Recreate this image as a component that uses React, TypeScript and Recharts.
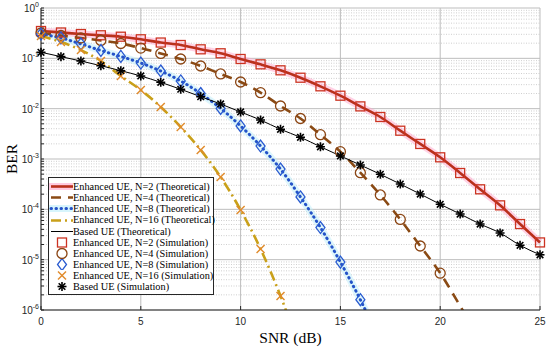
import React from 'react';
import { ComposedChart, Line, Scatter, XAxis, YAxis, CartesianGrid, Legend } from 'recharts';

// SNR in dB, one sample per dB
const snr = [0, 1, 2, 3, 4, 5, 6, 7, 8, 9, 10, 11, 12, 13, 14, 15, 16, 17, 18, 19, 20, 21, 22, 23, 24, 25];

// BER
const berN2 = [0.349, 0.326, 0.304, 0.287, 0.269, 0.239, 0.206, 0.184, 0.151, 0.126, 0.097, 0.076, 0.0578, 0.0412, 0.0278, 0.0181, 0.0111, 0.00683, 0.00365, 0.00199, 0.00108, 5.27e-4, 2.5e-4, 1.2e-4, 5.1e-5, 2.2e-5];
const berN4 = [0.319, 0.284, 0.254, 0.226, 0.197, 0.16, 0.125, 0.097, 0.0704, 0.0489, 0.0339, 0.0208, 0.0113, 0.00638, 0.00304, 0.0014, 5.34e-4, 1.93e-4, 6.3e-5, 1.87e-5, 5.4e-6];
const berN4Tail = [1.2e-6, 2.5e-7];
const berN8 = [0.304, 0.254, 0.193, 0.143, 0.109, 0.0807, 0.056, 0.0355, 0.02, 0.0101, 0.00453, 0.00181, 6.3e-4, 1.76e-4, 4.35e-5, 8.97e-6, 1.6e-6];
const berN8Tail = [2.3e-7];
const berN16 = [0.278, 0.211, 0.146, 0.0885, 0.0446, 0.0235, 0.0108, 0.00432, 0.00151, 4.39e-4, 9.7e-5, 1.63e-5, 1.9e-6];
const berN16Tail = [1.5e-7];
const berBased = [0.132, 0.108, 0.0885, 0.0714, 0.0568, 0.0446, 0.0334, 0.0243, 0.0173, 0.0124, 0.00859, 0.00595, 0.00389, 0.0027, 0.00175, 0.00115, 7.6e-4, 4.97e-4, 3.18e-4, 2.01e-4, 1.26e-4, 8.07e-5, 5.1e-5, 3.39e-5, 1.93e-5, 1.25e-5];

const xTicks = [0, 5, 10, 15, 20, 25];
const yMajor = [1e-6, 1e-5, 1e-4, 1e-3, 1e-2, 1e-1, 1];
const yMinor = yMajor.slice(0, -1).flatMap((d) => [2, 3, 4, 5, 6, 7, 8, 9].map((m) => m * d));
const yAll = [...yMajor, ...yMinor].sort((a, b) => a - b);

const toPoints = (vals: number[]) => vals.map((ber, i) => ({ snr: snr[i], ber }));

type MarkerKind = 'square' | 'circle' | 'diamond' | 'cross' | 'star';

const series = [
  { name: 'Enhanced UE, N=2', sim: berN2, theory: berN2, color: '#b9301c', dash: undefined, width: 2.6, halo: '#ffa6cc', marker: 'square' as MarkerKind, markerColor: '#cc3322' },
  { name: 'Enhanced UE, N=4', sim: berN4, theory: [...berN4, ...berN4Tail], color: '#8a4a14', dash: '10 7', width: 2.6, halo: undefined, marker: 'circle' as MarkerKind, markerColor: '#8b4513' },
  { name: 'Enhanced UE, N=8', sim: berN8, theory: [...berN8, ...berN8Tail], color: '#2453c8', dash: '0.5 4.5', width: 3, halo: '#bdeefa', marker: 'diamond' as MarkerKind, markerColor: '#2a5bd0' },
  { name: 'Enhanced UE, N=16', sim: berN16, theory: [...berN16, ...berN16Tail], color: '#c9a01a', dash: '10 4 2 4', width: 2.6, halo: undefined, marker: 'cross' as MarkerKind, markerColor: '#e08a2a' },
];
const based = { name: 'Based UE', sim: berBased, theory: berBased, color: '#000000', width: 1, marker: 'star' as MarkerKind, markerColor: '#000000' };

const Marker = ({ kind, cx, cy, color }: { kind: MarkerKind; cx: number; cy: number; color: string }) => {
  if (cx == null || cy == null) return <g />;
  switch (kind) {
    case 'square':
      return <rect x={cx - 4.5} y={cy - 4.5} width={9} height={9} fill="none" stroke={color} strokeWidth={1.3} />;
    case 'circle':
      return <circle cx={cx} cy={cy} r={5} fill="none" stroke={color} strokeWidth={1.3} />;
    case 'diamond':
      return <path d={`M${cx},${cy - 6}L${cx + 4.5},${cy}L${cx},${cy + 6}L${cx - 4.5},${cy}Z`} fill="none" stroke={color} strokeWidth={1.3} />;
    case 'cross':
      return (
        <g stroke={color} strokeWidth={1.4}>
          <line x1={cx - 4} y1={cy - 4} x2={cx + 4} y2={cy + 4} />
          <line x1={cx - 4} y1={cy + 4} x2={cx + 4} y2={cy - 4} />
        </g>
      );
    default:
      return (
        <g stroke={color} strokeWidth={1.6}>
          <line x1={cx - 4.5} y1={cy} x2={cx + 4.5} y2={cy} />
          <line x1={cx} y1={cy - 4.5} x2={cx} y2={cy + 4.5} />
          <line x1={cx - 3.3} y1={cy - 3.3} x2={cx + 3.3} y2={cy + 3.3} />
          <line x1={cx - 3.3} y1={cy + 3.3} x2={cx + 3.3} y2={cy - 3.3} />
        </g>
      );
  }
};

const tickFont = '"Liberation Sans", Arial, sans-serif';
const serif = '"Liberation Serif", "Times New Roman", serif';

const PowerTick = (props: any) => {
  const { x, y, payload } = props;
  const lg = Math.log10(payload.value);
  const exp = Math.round(lg);
  if (Math.abs(lg - exp) > 1e-6) return <g />;
  return (
    <text x={x} y={y} dy={4} textAnchor="end" fontSize={10} fill="#262626" fontFamily={tickFont}>
      10<tspan dy={-5} fontSize={7}>{String(exp)}</tspan>
    </text>
  );
};

const legendRows = [
  ...series.map((s) => ({ label: `${s.name} (Theoretical)`, type: 'line', s })),
  { label: `${based.name} (Theoretical)`, type: 'line', s: based },
  ...series.map((s) => ({ label: `${s.name} (Simulation)`, type: 'marker', s })),
  { label: `${based.name} (Simulation)`, type: 'marker', s: based },
];

const renderLegend = () => (
  <div style={{ border: '1px solid #262626', background: '#fff', padding: '3px 0 1px 0', fontFamily: serif, fontSize: 10.3, color: '#000', lineHeight: '11.16px' }}>
    {legendRows.map((r) => (
      <div key={r.label} style={{ display: 'flex', alignItems: 'center', height: 11.16, whiteSpace: 'nowrap' }}>
        <svg width={24} height={11} style={{ flex: 'none' }}>
          {r.type === 'line' ? (
            <g>
              {(r.s as any).halo && <rect x={0} y={2} width={24} height={7} fill={(r.s as any).halo} opacity={0.6} />}
              <line x1={2} y1={5.5} x2={24} y2={5.5} stroke={r.s.color} strokeWidth={r.s.width} strokeDasharray={(r.s as any).dash} strokeLinecap={(r.s as any).dash === '0.5 4.5' ? 'round' : 'butt'} />
            </g>
          ) : (
            <Marker kind={r.s.marker} cx={13} cy={5.5} color={r.s.markerColor} />
          )}
        </svg>
        <span>{r.label}</span>
      </div>
    ))}
  </div>
);

const App = () => {
  return (
    <div style={{ position: 'absolute', left: 0, top: 0, width: 550, height: 348, background: '#fff' }}>
      <ComposedChart width={550} height={348} margin={{ top: 8, right: 10, left: 0, bottom: 0 }}>
        <CartesianGrid horizontalValues={yMinor} vertical={false} stroke="#cfcfcf" strokeDasharray="1 1.5" />
        <CartesianGrid horizontalValues={yMajor} verticalValues={xTicks} stroke="#bdbdbd" />
        <XAxis
          dataKey="snr"
          type="number"
          domain={[0, 25]}
          ticks={xTicks}
          height={38}
          stroke="#262626"
          tickSize={-4}
          tickMargin={12}
          tick={{ fontSize: 10, fill: '#262626', fontFamily: tickFont }}
          label={{
            content: ({ viewBox }: any) => (
              <text x={viewBox.x + viewBox.width / 2} y={viewBox.y + 33} textAnchor="middle" fontSize={15.5} fontFamily={serif} fill="#000">
                SNR (dB)
              </text>
            ),
          }}
        />
        <XAxis xAxisId="top" orientation="top" type="number" domain={[0, 25]} ticks={xTicks} height={0} mirror tick={false} tickSize={4} stroke="#262626" />
        <YAxis
          dataKey="ber"
          scale="log"
          domain={[1e-6, 1]}
          allowDataOverflow
          ticks={yAll}
          interval={0}
          width={41}
          stroke="#262626"
          tickSize={-3}
          tickMargin={5}
          tick={<PowerTick />}
          label={{
            content: ({ viewBox }: any) => (
              <text x={17} y={viewBox.y + viewBox.height / 2} transform={`rotate(-90 17 ${viewBox.y + viewBox.height / 2})`} textAnchor="middle" fontSize={15.5} fontFamily={serif} fill="#000">
                BER
              </text>
            ),
          }}
        />
        <YAxis yAxisId="right" orientation="right" scale="log" domain={[1e-6, 1]} allowDataOverflow ticks={yAll} interval={0} width={0} mirror tick={false} tickSize={3} stroke="#262626" />

        {series.filter((s) => s.halo).map((s) => (
          <Line key={`halo-${s.name}`} data={toPoints(s.theory)} dataKey="ber" type="monotone" stroke={s.halo} strokeWidth={7} strokeOpacity={0.5} dot={false} isAnimationActive={false} legendType="none" />
        ))}
        {series.map((s) => (
          <Line key={`th-${s.name}`} data={toPoints(s.theory)} dataKey="ber" type="monotone" stroke={s.color} strokeWidth={s.width} strokeDasharray={s.dash} strokeLinecap={s.dash === '0.5 4.5' ? 'round' : 'butt'} dot={false} isAnimationActive={false} name={`${s.name} (Theoretical)`} />
        ))}
        <Line data={toPoints(based.theory)} dataKey="ber" type="monotone" stroke={based.color} strokeWidth={based.width} dot={false} isAnimationActive={false} name={`${based.name} (Theoretical)`} />
        {[...series, based].map((s) => (
          <Scatter
            key={`sim-${s.name}`}
            data={toPoints(s.sim)}
            dataKey="ber"
            isAnimationActive={false}
            name={`${s.name} (Simulation)`}
            shape={(p: any) => <Marker kind={s.marker} cx={p.cx} cy={p.cy} color={s.markerColor} />}
          />
        ))}
        <Legend layout="horizontal" verticalAlign="middle" align="center" content={renderLegend} wrapperStyle={{ left: 48, top: 177, width: 166, height: 'auto' }} />
      </ComposedChart>
    </div>
  );
};

export default App;
